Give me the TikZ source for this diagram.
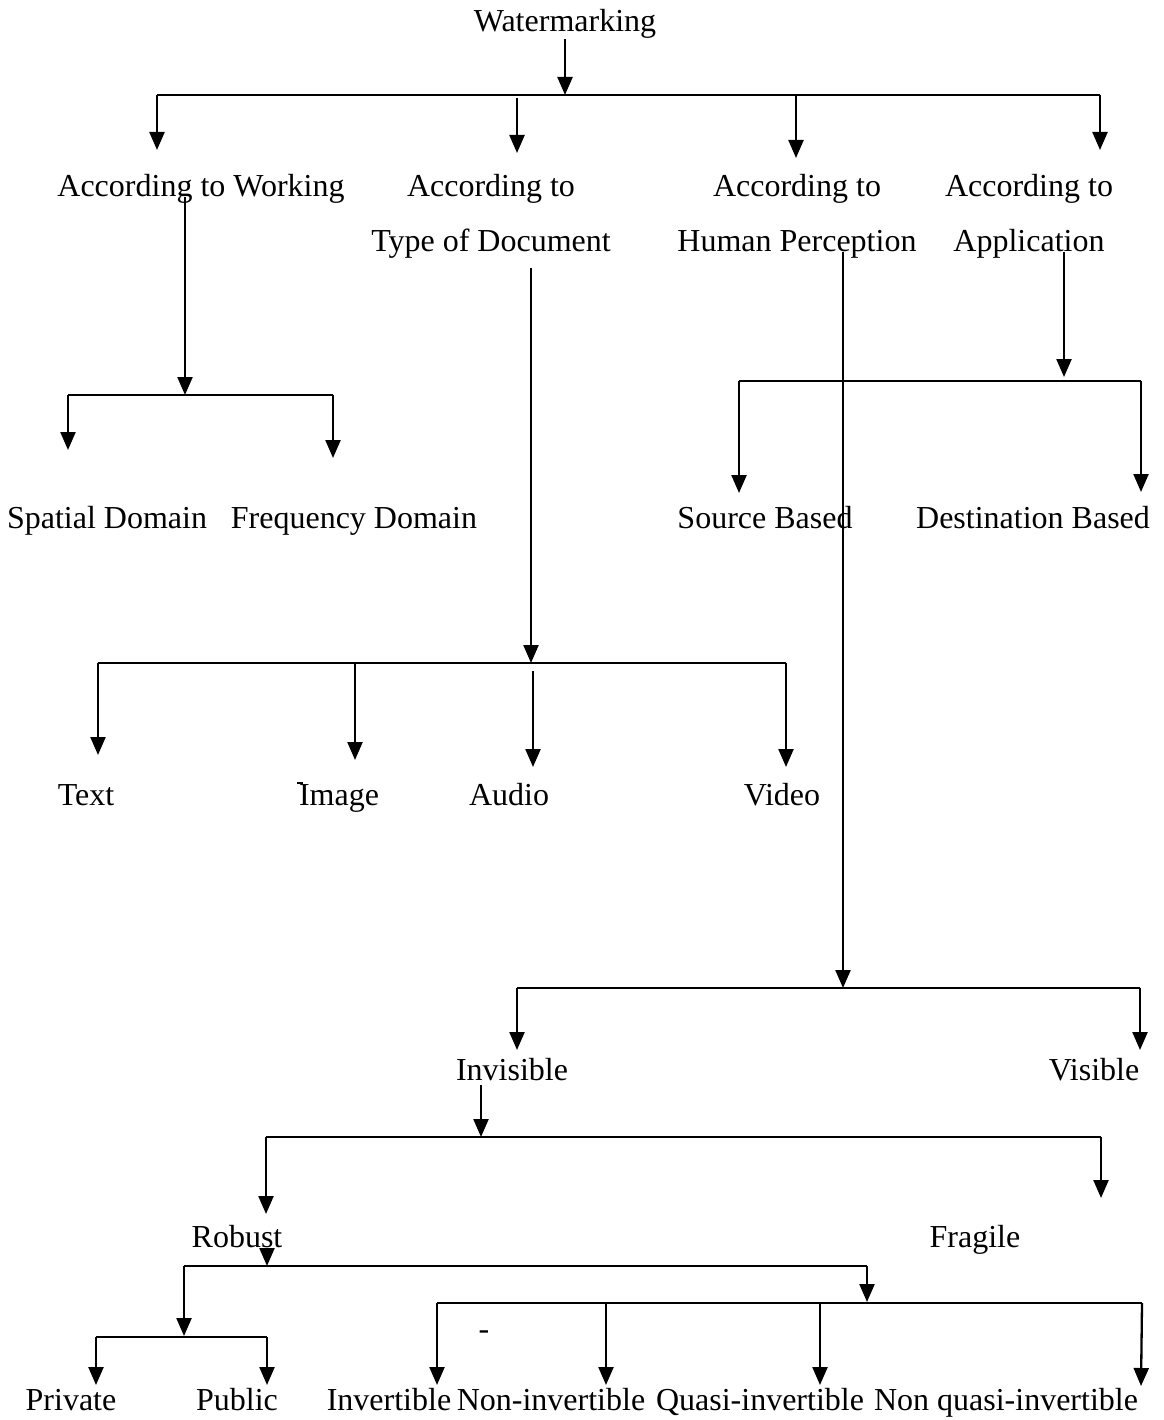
\documentclass[tikz,border=0pt]{standalone}
\usepackage{fontspec}
\setmainfont{Liberation Serif}
\usetikzlibrary{arrows.meta}
\begin{document}
\begin{tikzpicture}[x=1pt,y=-1pt,
  lbl/.style={inner sep=0pt, anchor=base, font=\fontsize{32}{55}\selectfont},
  two/.style={lbl, align=center},
  wire/.style={line width=2.3pt},
  arr/.style={wire, -{Triangle[width=15pt,length=18pt]}}]
\useasboundingbox[fill=white] (0,0) rectangle (1163,1420);

% ---------- labels ----------
\node[lbl] (wm) at (565,32) {Watermarking};
\node[lbl] (wk) at (201,197) {According to Working};
\node[two] (td) at (491,252) {According to\\Type of Document};
\node[two] (hp) at (797,252) {According to\\Human Perception};
\node[two] (ap) at (1029,252) {According to\\Application};
\node[lbl] (sd) at (107,528) {Spatial Domain};
\node[lbl] (fd) at (354,528) {Frequency Domain};
\node[lbl] (sb) at (765,528) {Source Based};
\node[lbl] (db) at (1033,528) {Destination Based};
\node[lbl] (tx) at (86,805) {Text};
\node[lbl] (im) at (339,805) {Image};
\node[lbl] (au) at (509,805) {Audio};
\node[lbl] (vi) at (782,805) {Video};
\node[lbl] (inv) at (512,1080) {Invisible};
\node[lbl] (vis) at (1094,1080) {Visible};
\node[lbl] (rob) at (237,1247) {Robust};
\node[lbl] (fr) at (975,1247) {Fragile};
\node[lbl] (pv) at (71,1410) {Private};
\node[lbl] (pb) at (237,1410) {Public};
\node[lbl] (iv) at (389,1410) {Invertible};
\node[lbl] (ni) at (551,1410) {Non-invertible};
\node[lbl] (qi) at (760,1410) {Quasi-invertible};
\node[lbl] (nq) at (1006,1410) {Non quasi-invertible};
\node[lbl] (dash) at (484,1339) {-};

% small stroke before the I of Image
\coordinate (ima) at (297,783);
\coordinate (imb) at (303,783);
\draw[line width=1.5pt] (ima) -- (imb);

% ---------- Watermarking ----------
\coordinate (b0m) at (565,95);
\coordinate (b0l) at (157,95);
\coordinate (b0r) at (1100,95);
\coordinate (a1) at (157,150);
\coordinate (a2s) at (517,98);
\coordinate (a2) at (517,153);
\coordinate (a3s) at (796,95);
\coordinate (a3) at (796,158);
\coordinate (a4) at (1100,150);
\draw[arr] (wm.south) -- (b0m);
\draw[wire] (b0l) -- (b0r);
\draw[arr] (b0l) -- (a1);
\draw[arr] (a2s) -- (a2);
\draw[arr] (a3s) -- (a3);
\draw[arr] (b0r) -- (a4);

% ---------- According to Working ----------
\coordinate (ws) at (185,197);
\coordinate (wj) at (185,395);
\coordinate (wl) at (68,395);
\coordinate (wr) at (333,395);
\coordinate (wt1) at (68,450);
\coordinate (wt2) at (333,458);
\draw[arr] (ws) -- (wj);
\draw[wire] (wl) -- (wr);
\draw[arr] (wl) -- (wt1);
\draw[arr] (wr) -- (wt2);

% ---------- According to Type of Document ----------
\coordinate (ts) at (531,268);
\coordinate (tj) at (531,663);
\coordinate (tl) at (98,663);
\coordinate (tr) at (786,663);
\coordinate (tm) at (355,663);
\coordinate (tas) at (533,671);
\coordinate (tt1) at (98,755);
\coordinate (tt2) at (355,760);
\coordinate (tt3) at (533,767);
\coordinate (tt4) at (786,767);
\draw[arr] (ts) -- (tj);
\draw[wire] (tl) -- (tr);
\draw[arr] (tl) -- (tt1);
\draw[arr] (tm) -- (tt2);
\draw[arr] (tas) -- (tt3);
\draw[arr] (tr) -- (tt4);

% ---------- According to Application ----------
\coordinate (ps) at (1064,252);
\coordinate (pj) at (1064,377);
\coordinate (pl) at (739,381);
\coordinate (pr) at (1141,381);
\coordinate (pt1) at (739,493);
\coordinate (pt2) at (1141,492);
\draw[arr] (ps) -- (pj);
\draw[wire] (pl) -- (pr);
\draw[arr] (pl) -- (pt1);
\draw[arr] (pr) -- (pt2);

% ---------- According to Human Perception ----------
\coordinate (hs) at (843,252);
\coordinate (hj) at (843,988);
\coordinate (hl) at (517,988);
\coordinate (hr) at (1140,988);
\coordinate (ht1) at (517,1050);
\coordinate (ht2) at (1140,1050);
\draw[arr] (hs) -- (hj);
\draw[wire] (hl) -- (hr);
\draw[arr] (hl) -- (ht1);
\draw[arr] (hr) -- (ht2);

% ---------- Invisible ----------
\coordinate (is) at (481,1085);
\coordinate (ij) at (481,1137);
\coordinate (il) at (266,1137);
\coordinate (ir) at (1101,1137);
\coordinate (it1) at (266,1214);
\coordinate (it2) at (1101,1198);
\draw[arr] (is) -- (ij);
\draw[wire] (il) -- (ir);
\draw[arr] (il) -- (it1);
\draw[arr] (ir) -- (it2);

% ---------- Robust ----------
\coordinate (rs) at (267,1250);
\coordinate (rj) at (267,1266);
\coordinate (rl) at (184,1266);
\coordinate (rr) at (867,1266);
\coordinate (rt1) at (184,1336);
\coordinate (rt2) at (867,1302);
\draw[arr] (rs) -- (rj);
\draw[wire] (rl) -- (rr);
\draw[arr] (rl) -- (rt1);
\draw[arr] (rr) -- (rt2);

% private / public
\coordinate (ql) at (96,1337);
\coordinate (qr) at (267,1337);
\coordinate (qt1) at (96,1385);
\coordinate (qt2) at (267,1385);
\draw[wire] (ql) -- (qr);
\draw[arr] (ql) -- (qt1);
\draw[arr] (qr) -- (qt2);

% invertibility
\coordinate (vl) at (437,1303);
\coordinate (vr) at (1142,1303);
\coordinate (v2) at (606,1303);
\coordinate (v3) at (820,1303);
\coordinate (vt1) at (437,1385);
\coordinate (vt2) at (606,1385);
\coordinate (vt3) at (820,1385);
\coordinate (vt4) at (1141,1386);
\draw[wire] (vl) -- (vr);
\draw[arr] (vl) -- (vt1);
\draw[arr] (v2) -- (vt2);
\draw[arr] (v3) -- (vt3);
\draw[arr] (vr) -- (vt4);
\end{tikzpicture}
\end{document}
